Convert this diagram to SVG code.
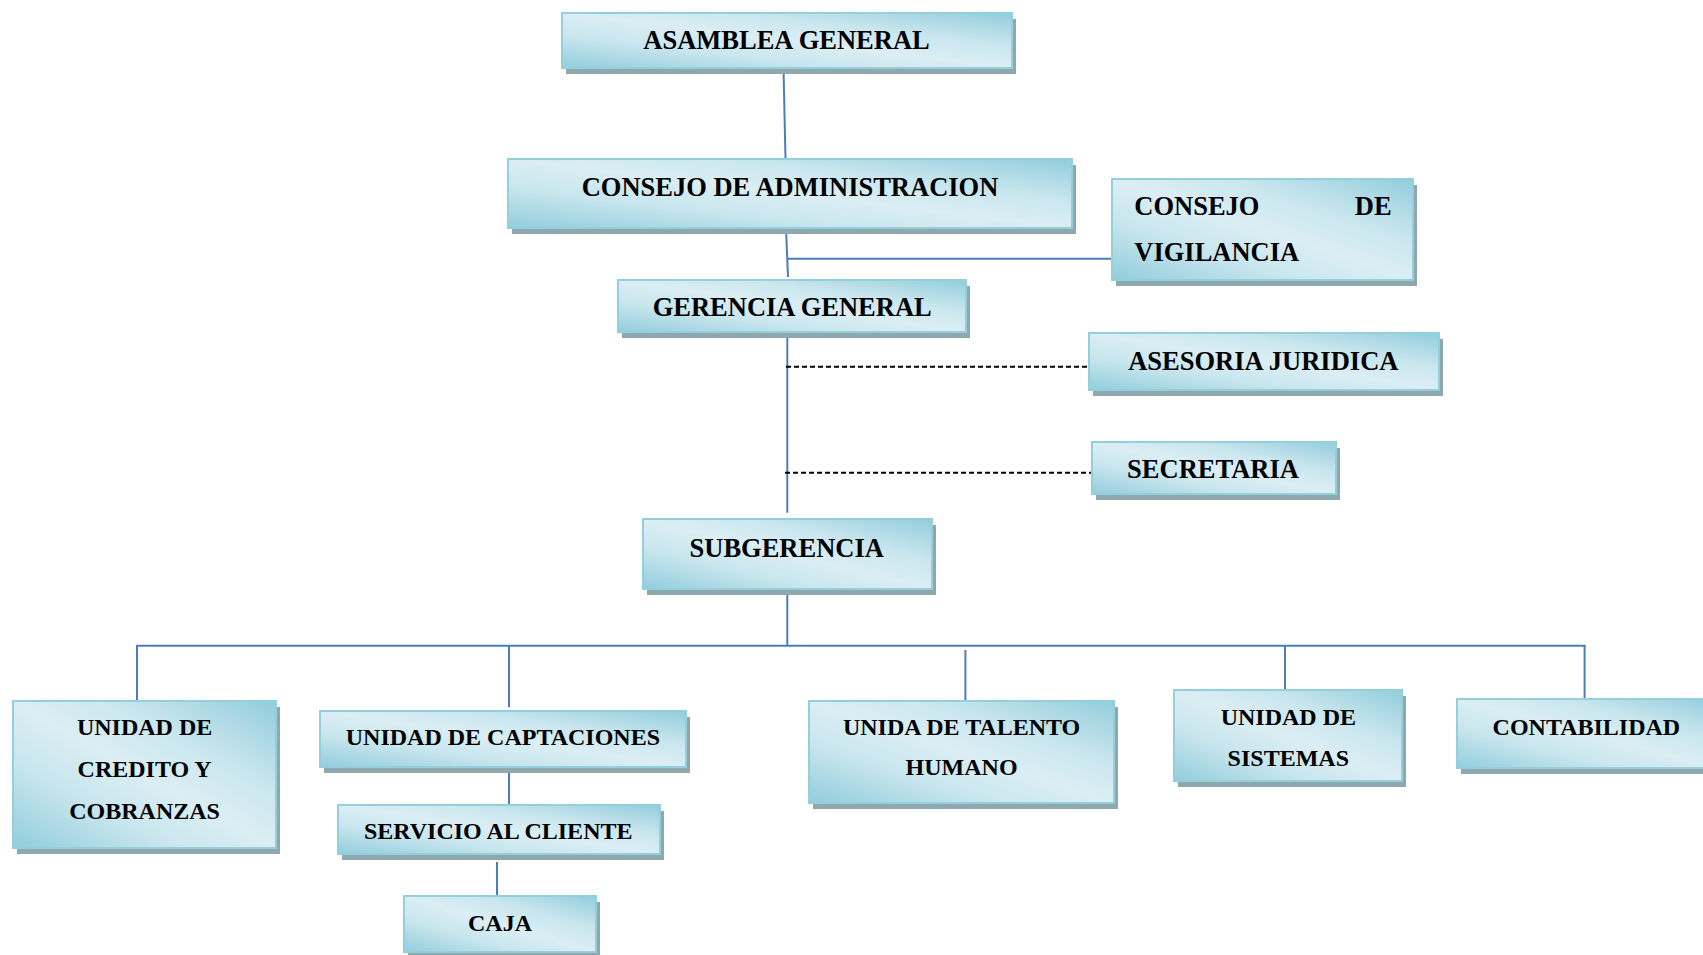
<svg xmlns="http://www.w3.org/2000/svg" width="1703" height="955" viewBox="0 0 1703 955">
<defs>
<linearGradient id="g" x1="0" y1="1" x2="1" y2="0">
<stop offset="0" stop-color="#92cddc"/>
<stop offset="0.3" stop-color="#c9e6ee"/>
<stop offset="0.5" stop-color="#dbeef4"/>
<stop offset="0.7" stop-color="#c9e6ee"/>
<stop offset="1" stop-color="#92cddc"/>
</linearGradient>
</defs>
<style>
.sh{fill:#8fa8ae}
.bx{fill:url(#g);stroke:#93cfdd;stroke-width:2}
.t{font-family:"Liberation Serif","Times New Roman",serif;font-weight:bold;fill:#000}
.t1{font-size:26.5px}
.t2{font-size:24px}
.c{fill:none;stroke:#4a7ebb;stroke-width:2}
.d{fill:none;stroke:#000;stroke-width:2;stroke-dasharray:5 3}
</style>
<rect width="1703" height="955" fill="#fff"/>
<g id="connectors">
<line class="c" x1="783.5" y1="68" x2="785.5" y2="159"/>
<line class="c" x1="786" y1="228" x2="788" y2="277"/>
<line class="c" x1="787" y1="258.7" x2="1112" y2="258.7"/>
<line class="c" x1="787.3" y1="332" x2="787.3" y2="512.7"/>
<line class="d" x1="786" y1="366.7" x2="1089" y2="366.7"/>
<line class="d" x1="785" y1="472.7" x2="1092" y2="472.7"/>
<line class="c" x1="787.3" y1="589" x2="787.3" y2="645.7"/>
<line class="c" x1="136" y1="645.7" x2="1585.6" y2="645.7"/>
<line class="c" x1="137" y1="645.7" x2="137" y2="701"/>
<line class="c" x1="509" y1="645.7" x2="509" y2="707.3"/>
<line class="c" x1="965.4" y1="650" x2="965.4" y2="701"/>
<line class="c" x1="1285" y1="645.7" x2="1285" y2="692"/>
<line class="c" x1="1584.6" y1="645.7" x2="1584.6" y2="698"/>
<line class="c" x1="509" y1="767" x2="509" y2="805"/>
<line class="c" x1="497" y1="862" x2="497" y2="896"/>
</g>
<g id="asamblea">
<rect class="sh" x="566" y="19" width="450" height="55"/>
<rect class="bx" x="562" y="13" width="450" height="55"/>
<text class="t t1" x="786.5" y="49.3" text-anchor="middle">ASAMBLEA GENERAL</text>
</g>
<g id="consejo-admin">
<rect class="sh" x="512" y="165" width="564" height="69"/>
<rect class="bx" x="508" y="159" width="564" height="69"/>
<text class="t t1" x="790" y="196" text-anchor="middle">CONSEJO DE ADMINISTRACION</text>
</g>
<g id="consejo-vigilancia">
<rect class="sh" x="1116" y="185" width="301" height="101"/>
<rect class="bx" x="1112" y="179" width="301" height="101"/>
<text class="t t1" x="1134.3" y="215">CONSEJO</text>
<text class="t t1" x="1391.7" y="215" text-anchor="end">DE</text>
<text class="t t1" x="1134.3" y="261">VIGILANCIA</text>
</g>
<g id="gerencia">
<rect class="sh" x="622" y="286" width="348" height="52"/>
<rect class="bx" x="618" y="280" width="348" height="52"/>
<text class="t t1" x="792.2" y="315.7" text-anchor="middle">GERENCIA GENERAL</text>
</g>
<g id="asesoria">
<rect class="sh" x="1093" y="339" width="350" height="57"/>
<rect class="bx" x="1089" y="333" width="350" height="57"/>
<text class="t t1" x="1263.3" y="370" text-anchor="middle">ASESORIA JURIDICA</text>
</g>
<g id="secretaria">
<rect class="sh" x="1096" y="448" width="244" height="52"/>
<rect class="bx" x="1092" y="442" width="244" height="52"/>
<text class="t t1" x="1213" y="477.7" text-anchor="middle">SECRETARIA</text>
</g>
<g id="subgerencia">
<rect class="sh" x="647" y="525" width="289" height="70"/>
<rect class="bx" x="643" y="519" width="289" height="70"/>
<text class="t t1" x="786.7" y="556.7" text-anchor="middle">SUBGERENCIA</text>
</g>
<g id="credito">
<rect class="sh" x="17" y="707" width="263" height="147"/>
<rect class="bx" x="13" y="701" width="263" height="147"/>
<text class="t t2" x="144.6" y="735" text-anchor="middle">UNIDAD DE</text>
<text class="t t2" x="144.6" y="777" text-anchor="middle">CREDITO Y</text>
<text class="t t2" x="144.6" y="819" text-anchor="middle">COBRANZAS</text>
</g>
<g id="captaciones">
<rect class="sh" x="324" y="717" width="366" height="56"/>
<rect class="bx" x="320" y="711" width="366" height="56"/>
<text class="t t2" x="502.9" y="745" text-anchor="middle">UNIDAD DE CAPTACIONES</text>
</g>
<g id="servicio">
<rect class="sh" x="342" y="811" width="322" height="49"/>
<rect class="bx" x="338" y="805" width="322" height="49"/>
<text class="t t2" x="498.2" y="839" text-anchor="middle">SERVICIO AL CLIENTE</text>
</g>
<g id="caja">
<rect class="sh" x="408" y="902" width="192" height="56"/>
<rect class="bx" x="404" y="896" width="192" height="56"/>
<text class="t t2" x="500" y="931" text-anchor="middle">CAJA</text>
</g>
<g id="talento">
<rect class="sh" x="813" y="707" width="305" height="102"/>
<rect class="bx" x="809" y="701" width="305" height="102"/>
<text class="t t2" x="961.6" y="735" text-anchor="middle">UNIDA DE TALENTO</text>
<text class="t t2" x="961.6" y="775" text-anchor="middle">HUMANO</text>
</g>
<g id="sistemas">
<rect class="sh" x="1178" y="696" width="228" height="91"/>
<rect class="bx" x="1174" y="690" width="228" height="91"/>
<text class="t t2" x="1288.3" y="725" text-anchor="middle">UNIDAD DE</text>
<text class="t t2" x="1288.3" y="765.7" text-anchor="middle">SISTEMAS</text>
</g>
<g id="contabilidad">
<rect class="sh" x="1461" y="705" width="259" height="69"/>
<rect class="bx" x="1457" y="699" width="259" height="69"/>
<text class="t t2" x="1586.4" y="735" text-anchor="middle">CONTABILIDAD</text>
</g>
</svg>
